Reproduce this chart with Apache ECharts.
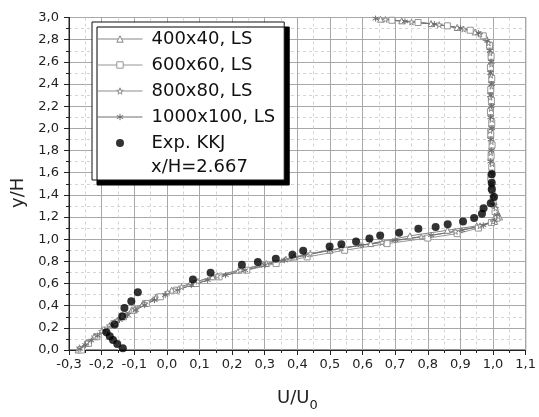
<!DOCTYPE html>
<html>
<head>
<meta charset="utf-8">
<script src="https://cdn.jsdelivr.net/npm/echarts@6/dist/echarts.min.js"></script>
<style>
  html, body { margin: 0; padding: 0; background: #fff; }
  #chart { width: 539px; height: 417px; }
</style>
</head>
<body>
<div id="chart"></div>
<script>
// Velocity profile U/U0 against y/H at x/H = 2.667

const seriesNames = ['400x40, LS', '600x60, LS', '800x80, LS', '1000x100, LS', 'Exp. KKJ'];
const stationLabel = 'x/H=2.667';

// [U/U0, y/H] pairs
const mesh400 = [
  [-0.272,0.00],[-0.248,0.06],[-0.222,0.12],[-0.196,0.18],[-0.168,0.24],[-0.140,0.30],
  [-0.108,0.36],[-0.073,0.42],[-0.032,0.48],[0.015,0.54],[0.072,0.60],[0.140,0.66],
  [0.220,0.72],[0.305,0.78],[0.390,0.84],[0.500,0.90],[0.625,0.96],[0.745,1.03],
  [0.860,1.08],[0.950,1.12],[1.005,1.16],[1.020,1.20],[1.010,1.26],[1.003,1.34],
  [0.998,1.44],[0.994,1.54],[0.997,1.64],[0.993,1.74],[0.996,1.84],[0.992,1.94],
  [0.995,2.04],[0.993,2.14],[0.996,2.24],[0.992,2.34],[0.995,2.44],[0.993,2.54],
  [0.994,2.64],[0.990,2.74],[0.978,2.82],[0.945,2.87],[0.890,2.91],[0.810,2.945],
  [0.720,2.97],[0.655,2.985]
];
const mesh600 = [
  [-0.262,0.00],[-0.240,0.06],[-0.215,0.12],[-0.190,0.18],[-0.162,0.24],[-0.133,0.30],
  [-0.100,0.36],[-0.063,0.42],[-0.020,0.48],[0.030,0.54],[0.090,0.60],[0.160,0.66],
  [0.245,0.72],[0.335,0.78],[0.430,0.84],[0.545,0.90],[0.675,0.96],[0.800,1.01],
  [0.890,1.05],[0.955,1.10],[0.995,1.15],[1.012,1.19],[1.006,1.25],[1.000,1.35],
  [0.997,1.45],[0.993,1.55],[0.996,1.65],[0.994,1.75],[0.997,1.85],[0.993,1.95],
  [0.996,2.05],[0.992,2.15],[0.995,2.25],[0.993,2.35],[0.996,2.45],[0.992,2.55],
  [0.994,2.65],[0.989,2.75],[0.970,2.835],[0.930,2.885],[0.860,2.925],[0.770,2.955],
  [0.690,2.975]
];
const mesh800 = [
  [-0.268,0.02],[-0.245,0.07],[-0.222,0.12],[-0.200,0.17],[-0.176,0.22],[-0.152,0.27],
  [-0.125,0.32],[-0.098,0.37],[-0.068,0.42],[-0.035,0.47],[0.002,0.52],[0.045,0.57],
  [0.095,0.62],[0.155,0.67],[0.225,0.72],[0.295,0.77],[0.365,0.82],[0.440,0.87],
  [0.535,0.92],[0.660,0.97],[0.780,1.02],[0.885,1.07],[0.960,1.12],[1.000,1.16],
  [1.015,1.21],[1.008,1.28],[1.000,1.38],[0.996,1.48],[0.992,1.58],[0.997,1.68],
  [0.993,1.78],[0.995,1.88],[0.991,1.98],[0.996,2.08],[0.994,2.18],[0.991,2.28],
  [0.996,2.38],[0.993,2.48],[0.995,2.58],[0.991,2.68],[0.986,2.77],[0.960,2.85],
  [0.910,2.895],[0.835,2.935],[0.750,2.96],[0.670,2.982]
];
const mesh1000 = [
  [-0.266,0.01],[-0.250,0.045],[-0.232,0.085],[-0.212,0.13],[-0.190,0.18],[-0.168,0.225],
  [-0.145,0.27],[-0.120,0.315],[-0.095,0.36],[-0.068,0.405],[-0.038,0.45],[-0.005,0.495],
  [0.032,0.54],[0.075,0.585],[0.125,0.63],[0.180,0.675],[0.240,0.72],[0.300,0.765],
  [0.360,0.81],[0.425,0.855],[0.500,0.90],[0.595,0.945],[0.700,0.99],[0.810,1.035],
  [0.905,1.08],[0.970,1.125],[1.005,1.17],[1.012,1.22],[1.004,1.30],[0.998,1.40],
  [0.994,1.50],[0.997,1.60],[0.992,1.70],[0.995,1.80],[0.993,1.90],[0.997,2.00],
  [0.992,2.10],[0.995,2.20],[0.993,2.30],[0.996,2.40],[0.992,2.50],[0.994,2.60],
  [0.990,2.70],[0.982,2.79],[0.955,2.86],[0.900,2.905],[0.820,2.94],[0.730,2.965],
  [0.640,2.99]
];
const experiment = [
  [-0.135,0.015],[-0.152,0.055],[-0.165,0.09],[-0.175,0.125],[-0.185,0.16],[-0.160,0.23],
  [-0.137,0.305],[-0.130,0.38],[-0.109,0.44],[-0.089,0.52],[0.080,0.637],[0.134,0.696],
  [0.230,0.77],[0.279,0.794],[0.334,0.824],[0.385,0.86],[0.418,0.896],[0.499,0.933],
  [0.535,0.954],[0.580,0.978],[0.621,1.007],[0.654,1.034],[0.712,1.058],[0.771,1.093],
  [0.824,1.11],[0.861,1.135],[0.908,1.16],[0.942,1.19],[0.966,1.23],[0.971,1.28],
  [0.993,1.325],[1.003,1.38],[0.996,1.45],[0.996,1.51],[0.996,1.585]
];

const xMin = -0.3, xMax = 1.1, xStep = 0.1;
const yMin = 0, yMax = 3.0, yStep = 0.2;

const FONT = 'DejaVu Sans';
const STAR = 'path://M50,0 L61,35 L98,35 L68,57 L79,91 L50,70 L21,91 L32,57 L2,35 L39,35 Z';
const ASTERISK = 'path://M50,0 L50,100 M7,25 L93,75 M93,25 L7,75';

const meshColors = ['#858585', '#959595', '#8c8c8c', '#6e6e6e'];
const meshSymbols = ['triangle', 'rect', STAR, ASTERISK];

const commaFmt = v => v.toFixed(1).replace('.', ',');

function meshSeries(i, data) {
  const color = meshColors[i];
  return {
    name: seriesNames[i], type: 'line', data,
    symbol: meshSymbols[i], symbolSize: 6, showAllSymbol: true,
    lineStyle: { color, width: 1 },
    itemStyle: { color: '#fff', borderColor: color, borderWidth: 1 },
    emphasis: { disabled: true }
  };
}

const axisCommon = {
  type: 'value',
  axisLine: { show: true, onZero: false, lineStyle: { color: '#222', width: 1 } },
  axisTick: { show: true, inside: false, length: 5, lineStyle: { color: '#222' } },
  minorTick: { show: true, splitNumber: 2, length: 3, lineStyle: { color: '#222' } },
  splitLine: { show: true, lineStyle: { color: '#a8a8a8', width: 1 } },
  minorSplitLine: { show: true, lineStyle: { color: '#d4d4d4', width: 1, type: [3, 3] } },
  axisLabel: { color: '#222', fontFamily: FONT, fontSize: 13, formatter: commaFmt }
};

const legendData = seriesNames.map((name, i) => i < 4
  ? { name, itemStyle: { color: '#fff', borderColor: meshColors[i], borderWidth: 1 },
      lineStyle: { color: meshColors[i], width: 1 } }
  : { name, icon: 'circle', itemStyle: { color: '#000' } });

const chart = echarts.init(document.getElementById('chart'), null, { renderer: 'canvas' });
chart.setOption({
  animation: false,
  backgroundColor: '#fff',
  grid: { left: 69, right: 10, top: 17.5, bottom: 62, show: true, borderColor: '#222', borderWidth: 1 },
  xAxis: Object.assign({}, axisCommon, {
    min: xMin, max: xMax, interval: xStep,
    axisLabel: Object.assign({}, axisCommon.axisLabel, { margin: 8 }),
    name: 'U/U{sub|0}', nameLocation: 'middle', nameGap: 35,
    nameTextStyle: {
      color: '#222', fontFamily: FONT, fontSize: 18,
      rich: { sub: { fontFamily: FONT, fontSize: 13, color: '#222', padding: [14, 0, 0, 0] } }
    }
  }),
  yAxis: Object.assign({}, axisCommon, {
    min: yMin, max: yMax, interval: yStep,
    axisLabel: Object.assign({}, axisCommon.axisLabel, { margin: 10 }),
    name: 'y/H', nameLocation: 'middle', nameGap: 41,
    nameTextStyle: { color: '#222', fontFamily: FONT, fontSize: 18, padding: [0, 18, 0, 0] }
  }),
  legend: {
    left: 92, top: 22, orient: 'vertical',
    data: legendData,
    itemWidth: 45, itemHeight: 8, itemGap: 6,
    padding: [7, 9, 27, 5],
    backgroundColor: '#fff', borderColor: '#111', borderWidth: 1,
    shadowColor: '#000', shadowBlur: 0, shadowOffsetX: 5, shadowOffsetY: 5,
    selectedMode: false,
    textStyle: { fontFamily: FONT, fontSize: 18, color: '#111', lineHeight: 20, padding: [0, 0, 0, 4] }
  },
  graphic: [{
    type: 'text', left: 151, top: 158, z: 100,
    style: { text: stationLabel, font: '18px "' + FONT + '"', fill: '#111' }
  }],
  series: [
    meshSeries(0, mesh400),
    meshSeries(1, mesh600),
    meshSeries(2, mesh800),
    meshSeries(3, mesh1000),
    {
      name: seriesNames[4], type: 'scatter', data: experiment,
      symbol: 'circle', symbolSize: 8,
      itemStyle: { color: '#000' },
      emphasis: { disabled: true },
      z: 5
    }
  ]
});
</script>
</body>
</html>
